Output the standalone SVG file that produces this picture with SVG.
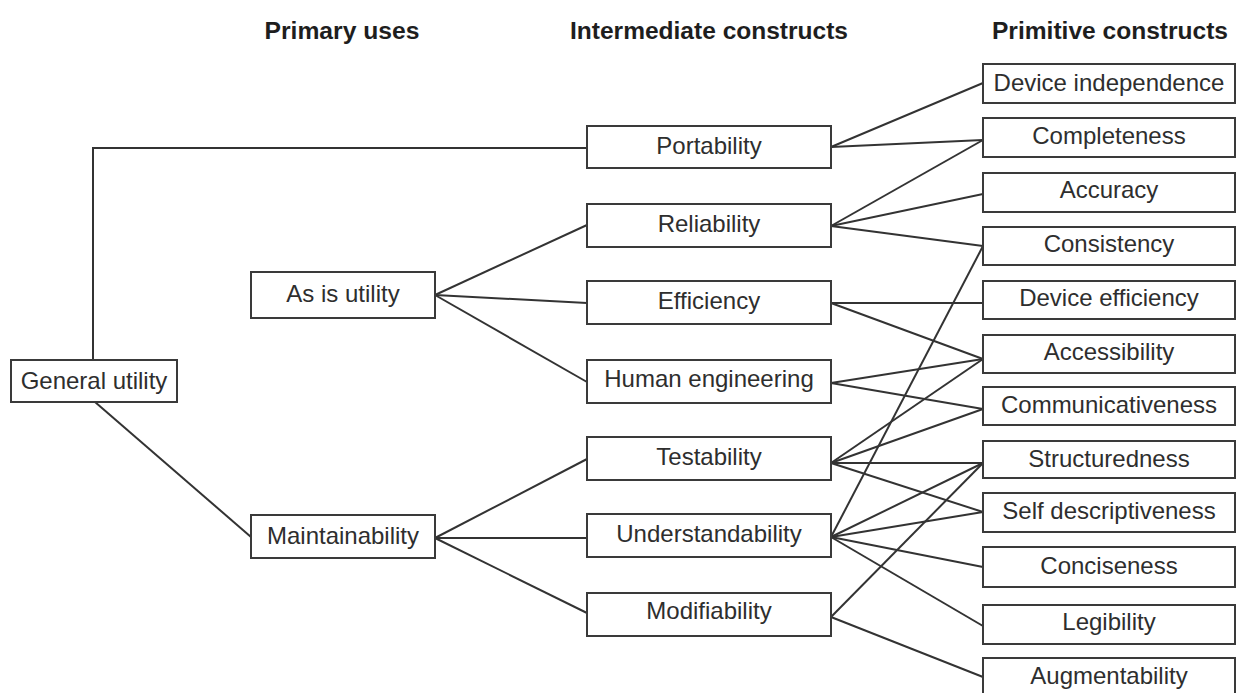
<svg xmlns="http://www.w3.org/2000/svg" width="1236" height="693" viewBox="0 0 1236 693">
<style>
.box{fill:#fff;stroke:#3a3a3a;stroke-width:2}
.t{font-family:"Liberation Sans",Arial,sans-serif;font-size:24px;fill:#2e2e2e;text-anchor:middle}
.h{font-family:"Liberation Sans",Arial,sans-serif;font-size:23px;font-weight:bold;fill:#1e1e1e;text-anchor:middle}
#connectors line,#connectors polyline{stroke:#333;stroke-width:2;fill:none}
</style>
<rect width="1236" height="693" fill="#fff"/>
<g id="headers">
<text class="h" x="342" y="39" textLength="155" lengthAdjust="spacingAndGlyphs">Primary uses</text>
<text class="h" x="709" y="39" textLength="278" lengthAdjust="spacingAndGlyphs">Intermediate constructs</text>
<text class="h" x="1110" y="39" textLength="236" lengthAdjust="spacingAndGlyphs">Primitive constructs</text>
</g>
<g id="connectors">
<polyline points="93,360 93,148 587,148"/>
<line x1="95" y1="402" x2="251" y2="537"/>
<line x1="435" y1="295" x2="587" y2="225"/>
<line x1="435" y1="295" x2="587" y2="303"/>
<line x1="435" y1="295" x2="587" y2="382"/>
<line x1="435" y1="538" x2="587" y2="459"/>
<line x1="435" y1="538" x2="587" y2="538"/>
<line x1="435" y1="538" x2="587" y2="613"/>
<line x1="831" y1="147" x2="983" y2="83"/>
<line x1="831" y1="147" x2="983" y2="140"/>
<line x1="831" y1="226" x2="983" y2="140"/>
<line x1="831" y1="226" x2="983" y2="194"/>
<line x1="831" y1="226" x2="983" y2="246"/>
<line x1="831" y1="303" x2="983" y2="303"/>
<line x1="831" y1="303" x2="983" y2="359"/>
<line x1="831" y1="383" x2="983" y2="359"/>
<line x1="831" y1="383" x2="983" y2="409"/>
<line x1="831" y1="463" x2="983" y2="359"/>
<line x1="831" y1="463" x2="983" y2="409"/>
<line x1="831" y1="463" x2="983" y2="463"/>
<line x1="831" y1="463" x2="983" y2="512"/>
<line x1="831" y1="537" x2="983" y2="246"/>
<line x1="831" y1="537" x2="983" y2="463"/>
<line x1="831" y1="537" x2="983" y2="512"/>
<line x1="831" y1="537" x2="983" y2="567"/>
<line x1="831" y1="537" x2="983" y2="626"/>
<line x1="831" y1="617" x2="983" y2="463"/>
<line x1="831" y1="617" x2="983" y2="677"/>
</g>
<g id="general-utility"><rect class="box" x="11" y="360" width="166" height="42"/><text class="t" x="94" y="389">General utility</text></g>
<g id="as-is-utility"><rect class="box" x="251" y="272" width="184" height="46"/><text class="t" x="343" y="302">As is utility</text></g>
<g id="maintainability"><rect class="box" x="251" y="515" width="184" height="43"/><text class="t" x="343" y="544">Maintainability</text></g>
<g id="portability"><rect class="box" x="587" y="126" width="244" height="42"/><text class="t" x="709" y="154">Portability</text></g>
<g id="reliability"><rect class="box" x="587" y="204" width="244" height="43"/><text class="t" x="709" y="232">Reliability</text></g>
<g id="efficiency"><rect class="box" x="587" y="281" width="244" height="43"/><text class="t" x="709" y="309">Efficiency</text></g>
<g id="human-engineering"><rect class="box" x="587" y="360" width="244" height="43"/><text class="t" x="709" y="387">Human engineering</text></g>
<g id="testability"><rect class="box" x="587" y="437" width="244" height="43"/><text class="t" x="709" y="465">Testability</text></g>
<g id="understandability"><rect class="box" x="587" y="514" width="244" height="43"/><text class="t" x="709" y="542">Understandability</text></g>
<g id="modifiability"><rect class="box" x="587" y="593" width="244" height="43"/><text class="t" x="709" y="619">Modifiability</text></g>
<g id="device-independence"><rect class="box" x="983" y="64" width="252" height="39"/><text class="t" x="1109" y="91">Device independence</text></g>
<g id="completeness"><rect class="box" x="983" y="118" width="252" height="39"/><text class="t" x="1109" y="144">Completeness</text></g>
<g id="accuracy"><rect class="box" x="983" y="173" width="252" height="39"/><text class="t" x="1109" y="198">Accuracy</text></g>
<g id="consistency"><rect class="box" x="983" y="227" width="252" height="38"/><text class="t" x="1109" y="252">Consistency</text></g>
<g id="device-efficiency"><rect class="box" x="983" y="281" width="252" height="38"/><text class="t" x="1109" y="306">Device efficiency</text></g>
<g id="accessibility"><rect class="box" x="983" y="335" width="252" height="38"/><text class="t" x="1109" y="360">Accessibility</text></g>
<g id="communicativeness"><rect class="box" x="983" y="387" width="252" height="38"/><text class="t" x="1109" y="413">Communicativeness</text></g>
<g id="structuredness"><rect class="box" x="983" y="441" width="252" height="37"/><text class="t" x="1109" y="467">Structuredness</text></g>
<g id="self-descriptiveness"><rect class="box" x="983" y="493" width="252" height="39"/><text class="t" x="1109" y="519">Self descriptiveness</text></g>
<g id="conciseness"><rect class="box" x="983" y="547" width="252" height="40"/><text class="t" x="1109" y="574">Conciseness</text></g>
<g id="legibility"><rect class="box" x="983" y="605" width="252" height="39"/><text class="t" x="1109" y="630">Legibility</text></g>
<g id="augmentability"><rect class="box" x="983" y="658" width="252" height="40"/><text class="t" x="1109" y="684">Augmentability</text></g>
</svg>
